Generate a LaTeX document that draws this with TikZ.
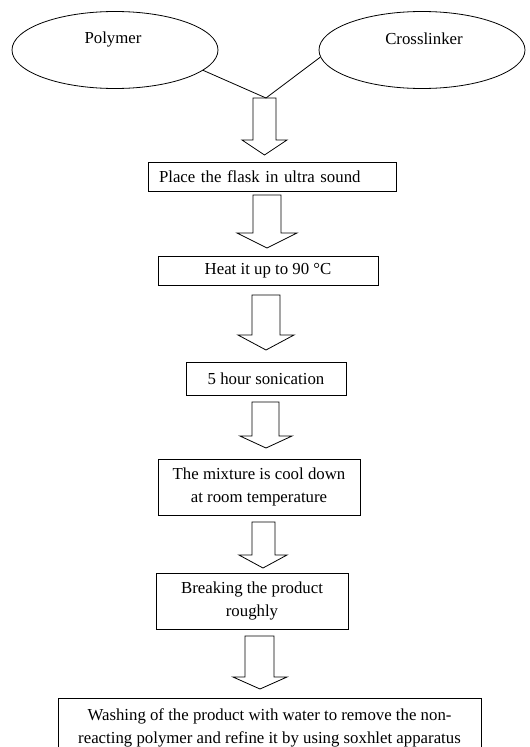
\documentclass[tikz,border=0pt]{standalone}
\usepackage{fontspec}
\setmainfont{Liberation Serif}
\usetikzlibrary{shapes.geometric,calc}
\begin{document}
\begin{tikzpicture}[x=1pt,y=-1pt,
  font=\fontsize{16.8}{23}\selectfont,
  bx/.style={draw, line width=0.8pt, inner sep=0pt, align=center},
  ell/.style={draw, ellipse, line width=0.8pt, inner sep=0pt},
  conn/.style={line width=0.8pt},
  barrow/.style={draw, line width=0.8pt, line join=miter}]
\useasboundingbox (0,0) rectangle (530,747);
% ellipses
\node[ell, minimum width=206pt, minimum height=77pt] (poly) at (115,50) {};
\node (polyt) at (113,39) {Polymer};
\node[ell, minimum width=206pt, minimum height=77pt] (cross) at (422,50) {};
\node (crosst) at (424,39) {Crosslinker};
\coordinate (j) at (266,98);
\draw[conn] (poly.-13) -- (j);
\draw[conn] (cross.184) -- (j);
% boxes
\node[bx, minimum width=248pt, minimum height=29pt, text width=226pt, align=left] (b1) at (272,176.5) {Place the flask in ultra sound};
\node[bx, minimum width=220pt, minimum height=29pt] (b2) at (268,270.5) {Heat it up to 90 °C};
\node[bx, minimum width=160pt, minimum height=33pt] (b3) at (266,378.5) {5 hour sonication};
\node[bx, minimum width=202pt, minimum height=56pt] (b4) at (259,487) {The mixture is cool down\\at room temperature};
\node[bx, minimum width=192pt, minimum height=56pt] (b5) at (252,601) {Breaking the product\\roughly};
\node[bx, minimum width=423pt, minimum height=60pt] (b6) at (269.5,728) {Washing of the product with water to remove the non-\\reacting polymer and refine it by using soxhlet apparatus};
% block arrows
\draw[barrow] (253,98) -- (276,98) -- (276,140) -- (287,140) -- (264.5,155) -- (242,140) -- (253,140) -- cycle;
\draw[barrow] (253,195) -- (281,195) -- (281,233) -- (297,233) -- (267,248) -- (237,233) -- (253,233) -- cycle;
\draw[barrow] (252,295) -- (280,295) -- (280,335) -- (294,335) -- (266,350) -- (238,335) -- (252,335) -- cycle;
\draw[barrow] (252,402) -- (279,402) -- (279,436) -- (292,436) -- (266,448) -- (240,436) -- (252,436) -- cycle;
\draw[barrow] (252,522) -- (275,522) -- (275,555) -- (287,555) -- (263,568) -- (239,555) -- (252,555) -- cycle;
\draw[barrow] (245,636) -- (274,636) -- (274,677) -- (287,677) -- (260,689) -- (233,677) -- (245,677) -- cycle;
\end{tikzpicture}
\end{document}
